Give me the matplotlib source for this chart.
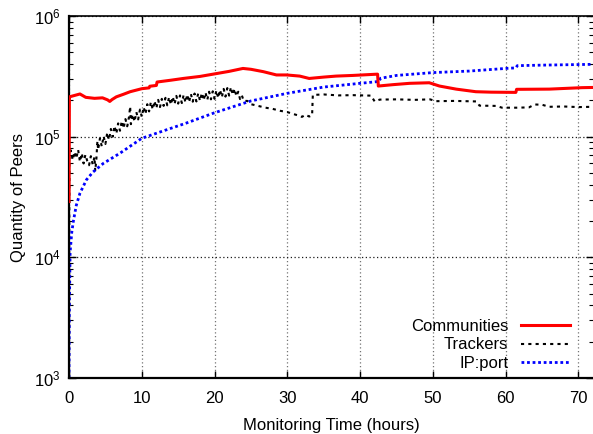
import numpy as np
import matplotlib
matplotlib.use('Agg')
import matplotlib.pyplot as plt
from matplotlib.ticker import LogLocator, MultipleLocator, NullFormatter

plt.rcParams['font.family'] = ['Liberation Sans', 'DejaVu Sans']
plt.rcParams['mathtext.fontset'] = 'custom'
plt.rcParams['mathtext.rm'] = 'Liberation Sans'
plt.rcParams['mathtext.it'] = 'Liberation Sans:italic'
plt.rcParams['mathtext.default'] = 'regular'

# peers seen over time, in thousands
comm_hours = [0.0, 0.05, 0.3, 1.5, 2.3, 3.5, 4.6, 5.3, 5.6, 5.9, 6.5, 7.5, 8.4, 10.0,
              11.0, 11.1, 12.0, 12.1, 14.0, 15.7, 18.0, 19.8, 22.0, 23.9, 25.0,
              26.7, 28.5, 29.9, 31.7, 33.0, 35.0, 36.7, 39.0, 42.4, 42.5, 44.5,
              46.8, 49.5, 50.9, 53.2, 55.9, 58.0, 61.4, 61.5, 66.0, 70.5, 72.0]
comm_k = [29, 214, 216, 226, 212, 208, 210, 202, 196, 203, 214, 225, 236, 250,
          254, 262, 266, 284, 294, 304, 316, 330, 348, 368, 362,
          346, 325, 325, 318, 304, 312, 318, 322, 330, 263, 270,
          277, 280, 263, 248, 236, 234, 233, 247, 248, 255, 256]

trk_hours = [0.0, 0.05, 0.25, 0.5, 0.75, 1.0, 1.25, 1.5, 1.75, 2.0, 2.25, 2.5,
             2.75, 3.0, 3.25, 3.5, 3.6, 3.75, 3.9, 4.0, 4.25, 4.5, 4.75, 5.0,
             5.25, 5.5, 5.75, 6.0, 6.25, 6.5, 6.75, 7.0, 7.25, 7.5, 7.75, 8.0,
             8.25, 8.4, 8.5, 8.75, 9.0, 9.25, 9.5, 9.75, 10.0, 10.25, 10.5,
             10.75, 11.0, 11.25, 11.5, 11.75, 12.0, 12.25, 12.5, 12.75, 13.0,
             13.25, 13.5, 13.75, 14.0, 14.25, 14.5, 14.75, 15.0, 15.25, 15.5,
             15.75, 16.0, 16.25, 16.5, 16.75, 17.0, 17.25, 17.5, 17.75, 18.0,
             18.25, 18.5, 18.75, 19.0, 19.25, 19.5, 19.75, 20.0, 20.25, 20.5,
             20.75, 21.0, 21.25, 21.5, 21.75, 22.0, 22.25, 22.5, 22.75, 23.0,
             23.25, 23.5, 23.75, 24.0, 24.5, 25.0, 26.0, 27.0, 28.0, 29.0, 30.0,
             30.7, 31.5, 32.0, 32.5, 33.0, 33.4, 33.5, 35.0, 37.0, 39.0, 41.5,
             42.0, 42.7, 45.0, 47.5, 49.6, 50.4, 53.0, 56.0, 56.4, 58.7, 59.5,
             61.5, 63.2, 64.0, 65.0, 66.0, 68.0, 70.0, 72.0]
trk_k = [1, 72, 77, 64, 75, 66, 78, 62, 73, 60, 71, 63,
         58, 69, 59, 68, 52, 64, 92, 78, 97, 83, 101, 87,
         108, 94, 116, 100, 123, 106, 129, 112, 135, 117, 140, 122,
         147, 178, 127, 153, 133, 160, 139, 168, 146, 176, 154,
         186, 162, 194, 168, 198, 172, 202, 176, 206, 180,
         210, 182, 213, 184, 215, 186, 218, 188, 220, 190,
         222, 192, 224, 193, 226, 195, 228, 196, 229, 198,
         231, 200, 233, 202, 236, 204, 238, 206, 242, 209,
         245, 212, 249, 215, 253, 219, 258, 222, 250, 216,
         236, 205, 220, 198, 198, 186, 180, 174, 170, 164, 160,
         155, 150, 146, 152, 147, 150, 222, 224, 220, 221, 219,
         196, 203, 204, 202, 204, 197, 198, 196, 181, 180, 174,
         174, 175, 185, 184, 177, 178, 176, 177]

ip_hours = [0.0, 0.05, 0.15, 0.37, 0.6, 1.0, 1.5, 2.4, 3.3, 4.7, 7.0, 10.0, 13.0,
            16.0, 20.0, 25.0, 30.0, 35.0, 40.0, 42.6, 42.8, 45.0, 50.0, 55.0,
            60.0, 61.4, 61.6, 65.0, 72.0]
ip_k = [1, 4, 11, 16, 20, 27, 34, 44, 51, 60, 73, 97, 112,
        129, 158, 198, 229, 258, 277, 287, 305, 322, 340, 350,
        368, 372, 388, 392, 398]

fig = plt.figure(figsize=(5.93, 4.34), dpi=100)
ax = fig.add_axes([0.1164, 0.129, 0.8836, 0.834])

ax.plot(comm_hours, np.array(comm_k) * 1e3, color='#ff0000', lw=2.2,
        label='Communities', zorder=3)
ax.plot(trk_hours, np.array(trk_k) * 1e3, color='black', lw=1.5,
        dashes=(1.5, 2.0), label='Trackers', zorder=2)
ax.plot(ip_hours, np.array(ip_k) * 1e3, color='#0000ff', lw=2.0,
        dashes=(1, 1), label='IP:port', zorder=2)

ax.set_yscale('log')
ax.set_xlim(0, 72)
ax.set_ylim(1e3, 1e6)
ax.xaxis.set_major_locator(MultipleLocator(10))
ax.yaxis.set_major_locator(LogLocator(base=10))
ax.yaxis.set_minor_locator(LogLocator(base=10, subs=np.arange(2, 10)))
ax.yaxis.set_minor_formatter(NullFormatter())

ax.tick_params(which='both', direction='in', top=True, right=True,
               labelsize=12, colors='black')
ax.tick_params(which='major', length=5, width=1)
ax.tick_params(axis='x', which='major', pad=9)
ax.tick_params(axis='y', which='major', pad=6)
ax.tick_params(which='minor', length=3, width=0.8)

ax.grid(True, which='major', axis='x', color='0.45', linestyle=(0, (1, 2)), lw=0.9)
ax.grid(True, which='major', axis='y', color='0.1', linestyle=(0, (1, 2)), lw=0.9)

for side in ['left', 'bottom']:
    ax.spines[side].set_linewidth(1.6)
ax.spines['top'].set_linewidth(1.2)
ax.spines['right'].set_visible(False)

ax.set_xlabel('Monitoring Time (hours)', fontsize=12, labelpad=9)
ax.set_ylabel('Quantity of Peers', fontsize=12, labelpad=6)

ax.legend(loc='lower right', bbox_to_anchor=(0.978, -0.012), frameon=False,
          markerfirst=False, fontsize=12, handlelength=2.9, handletextpad=0.8,
          labelspacing=0.2, borderaxespad=0.3)

fig.savefig('out.png', dpi=100)
